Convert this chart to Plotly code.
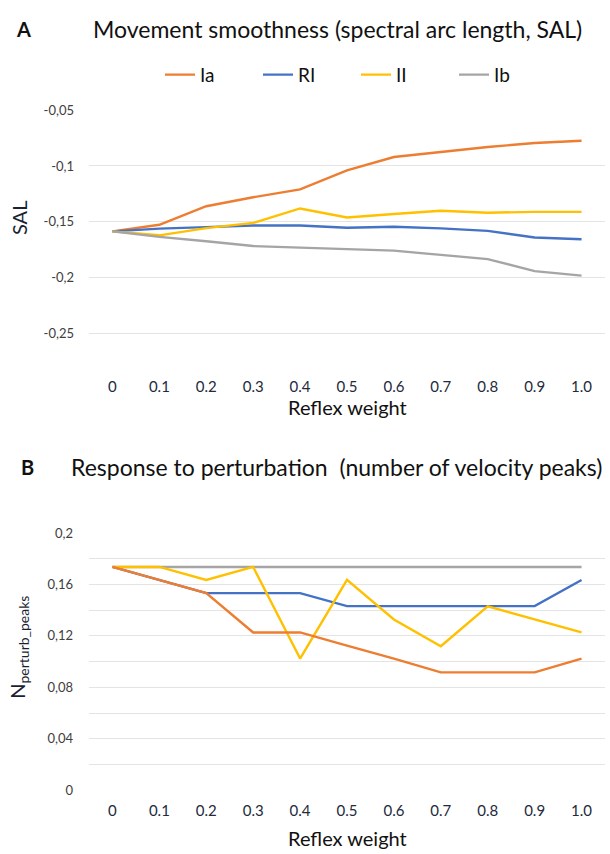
import plotly.graph_objects as go

W, H = 610, 854

# ---------------- data ----------------
weights = [0, 0.1, 0.2, 0.3, 0.4, 0.5, 0.6, 0.7, 0.8, 0.9, 1.0]
weight_labels = ["0", "0.1", "0.2", "0.3", "0.4", "0.5", "0.6", "0.7", "0.8", "0.9", "1.0"]

series_names = ["Ia", "RI", "II", "Ib"]
series_colors = ["#ED7D31", "#4472C4", "#FFC000", "#A5A5A5"]

# Panel A: spectral arc length (SAL)
sal_ia = [-0.1585, -0.1526, -0.1360, -0.1280, -0.1210, -0.1040, -0.0920, -0.0874, -0.0830, -0.0795, -0.0775]
sal_ri = [-0.1585, -0.1560, -0.1547, -0.1532, -0.1532, -0.1553, -0.1544, -0.1558, -0.1580, -0.1640, -0.1655]
sal_ii = [-0.1585, -0.1620, -0.1556, -0.1509, -0.1380, -0.1460, -0.1430, -0.1400, -0.1418, -0.1410, -0.1410]
sal_ib = [-0.1585, -0.1634, -0.1673, -0.1716, -0.1730, -0.1746, -0.1757, -0.1795, -0.1833, -0.1940, -0.1980]

sal_ticks = [-0.25, -0.2, -0.15, -0.1, -0.05]
sal_tick_labels = ["-0,25", "-0,2", "-0,15", "-0,1", "-0,05"]

# Panel B: number of velocity peaks after perturbation
np_ia = [0.1736, 0.1635, 0.1533, 0.1227, 0.1227, 0.1125, 0.1024, 0.0917, 0.0917, 0.0917, 0.1024]
np_ri = [0.1736, 0.1635, 0.1533, 0.1533, 0.1533, 0.1432, 0.1432, 0.1432, 0.1432, 0.1432, 0.1635]
np_ii = [0.1736, 0.1736, 0.1635, 0.1736, 0.1024, 0.1635, 0.1328, 0.1120, 0.1430, 0.1328, 0.1227]
np_ib = [0.1736, 0.1736, 0.1736, 0.1736, 0.1736, 0.1736, 0.1736, 0.1736, 0.1736, 0.1736, 0.1736]

np_ticks = [0, 0.04, 0.08, 0.12, 0.16, 0.2]
np_tick_labels = ["0", "0,04", "0,08", "0,12", "0,16", "0,2"]
np_minor_ticks = [0.02, 0.06, 0.10, 0.14, 0.18]

# ---------------- layout helpers ----------------
def py(p):
    return 1 - p / H

def px(p):
    return p / W

FONT = "Lato, 'Open Sans', sans-serif"
GRID = "#E4E4E4"
TICKC = "#222A3C"
YTICKC = "#404040"

fig = go.Figure()

sal_data = [sal_ia, sal_ri, sal_ii, sal_ib]
for i, (name, col, vals) in enumerate(zip(series_names, series_colors, sal_data)):
    fig.add_trace(go.Scatter(
        x=weights, y=vals, name=name, mode="lines",
        line=dict(color=col, width=2.4),
        xaxis="x", yaxis="y", legendrank=i + 1,
    ))

np_data = {"Ia": np_ia, "RI": np_ri, "II": np_ii, "Ib": np_ib}
draw_order = ["Ib", "RI", "II", "Ia"]
for name in draw_order:
    col = series_colors[series_names.index(name)]
    fig.add_trace(go.Scatter(
        x=weights, y=np_data[name], name=name, mode="lines",
        line=dict(color=col, width=2.4),
        xaxis="x2", yaxis="y2", showlegend=False,
    ))

xdom = [px(89), px(605)]

xaxis_common = dict(
    range=[-0.05, 1.05], tickmode="array", tickvals=weights, ticktext=weight_labels,
    showgrid=False, zeroline=False, showline=False, ticks="",
    tickfont=dict(family=FONT, size=15, color=TICKC),
    fixedrange=True,
)

fig.update_layout(
    width=W, height=H,
    margin=dict(l=0, r=0, t=0, b=0),
    paper_bgcolor="white", plot_bgcolor="white",
    font=dict(family=FONT),
    xaxis=dict(domain=xdom, anchor="y", ticklabelstandoff=6, **xaxis_common),
    yaxis=dict(
        domain=[py(369), py(104)], anchor="x", range=[-0.2825, -0.05],
        tickmode="array", tickvals=sal_ticks, ticktext=sal_tick_labels,
        showgrid=True, gridcolor=GRID, gridwidth=1, zeroline=False, showline=False,
        ticks="", ticklabelstandoff=14,
        tickfont=dict(family=FONT, size=13, color=YTICKC),
    ),
    xaxis2=dict(domain=xdom, anchor="y2", ticklabelstandoff=10, **xaxis_common),
    yaxis2=dict(
        domain=[py(797.3), py(535)], anchor="x2", range=[0, 0.2],
        tickmode="array", tickvals=np_ticks, ticktext=np_tick_labels,
        showgrid=True, gridcolor=GRID, gridwidth=1, zeroline=False, showline=False,
        ticks="", ticklabelstandoff=15,
        tickfont=dict(family=FONT, size=13, color=YTICKC),
        minor=dict(tickmode="array", tickvals=np_minor_ticks, showgrid=True,
                   gridcolor=GRID, gridwidth=1, ticks=""),
    ),
    legend=dict(
        orientation="h", x=px(160), xanchor="left", y=py(68), yanchor="middle",
        font=dict(family=FONT, size=19, color="#111111"),
        bgcolor="rgba(0,0,0,0)", entrywidth=53, entrywidthmode="pixels",
        itemwidth=30, traceorder="normal",
    ),
    showlegend=True,
)

annotations = [
    dict(text="<b>A</b>", x=px(14), y=py(21), xanchor="left", yanchor="middle",
         font=dict(size=20, color="#111111")),
    dict(text="Movement smoothness (spectral arc length, SAL)", x=px(91), y=py(21),
         xanchor="left", yanchor="middle", font=dict(size=23, color="#111111")),
    dict(text="SAL", x=px(19), y=py(214), xanchor="center", yanchor="middle",
         textangle=-90, font=dict(size=20, color="#1A1F33")),
    dict(text="Reflex weight", x=px(347), y=py(407), xanchor="center", yanchor="middle",
         font=dict(size=20, color="#111111")),
    dict(text="<b>B</b>", x=px(19), y=py(468), xanchor="left", yanchor="middle",
         font=dict(size=20, color="#111111")),
    dict(text="Response to perturbation&nbsp; (number of velocity peaks)", x=px(69), y=py(468),
         xanchor="left", yanchor="middle", font=dict(size=23, color="#111111")),
    dict(text="N<sub>perturb_peaks</sub>", x=px(19), y=py(652), xanchor="center", yanchor="middle",
         textangle=-90, font=dict(size=20, color="#1A1F33")),
    dict(text="Reflex weight", x=px(347), y=py(846), xanchor="center", yanchor="middle",
         font=dict(size=20, color="#111111")),
]
for a in annotations:
    a.update(xref="paper", yref="paper", showarrow=False)
    a["font"]["family"] = FONT
fig.update_layout(annotations=annotations)

fig.write_html(
    "out.html",
    config={"displayModeBar": False},
    post_script="document.body.style.margin='0';document.body.style.padding='0';"
                "document.body.style.overflow='hidden';",
)
